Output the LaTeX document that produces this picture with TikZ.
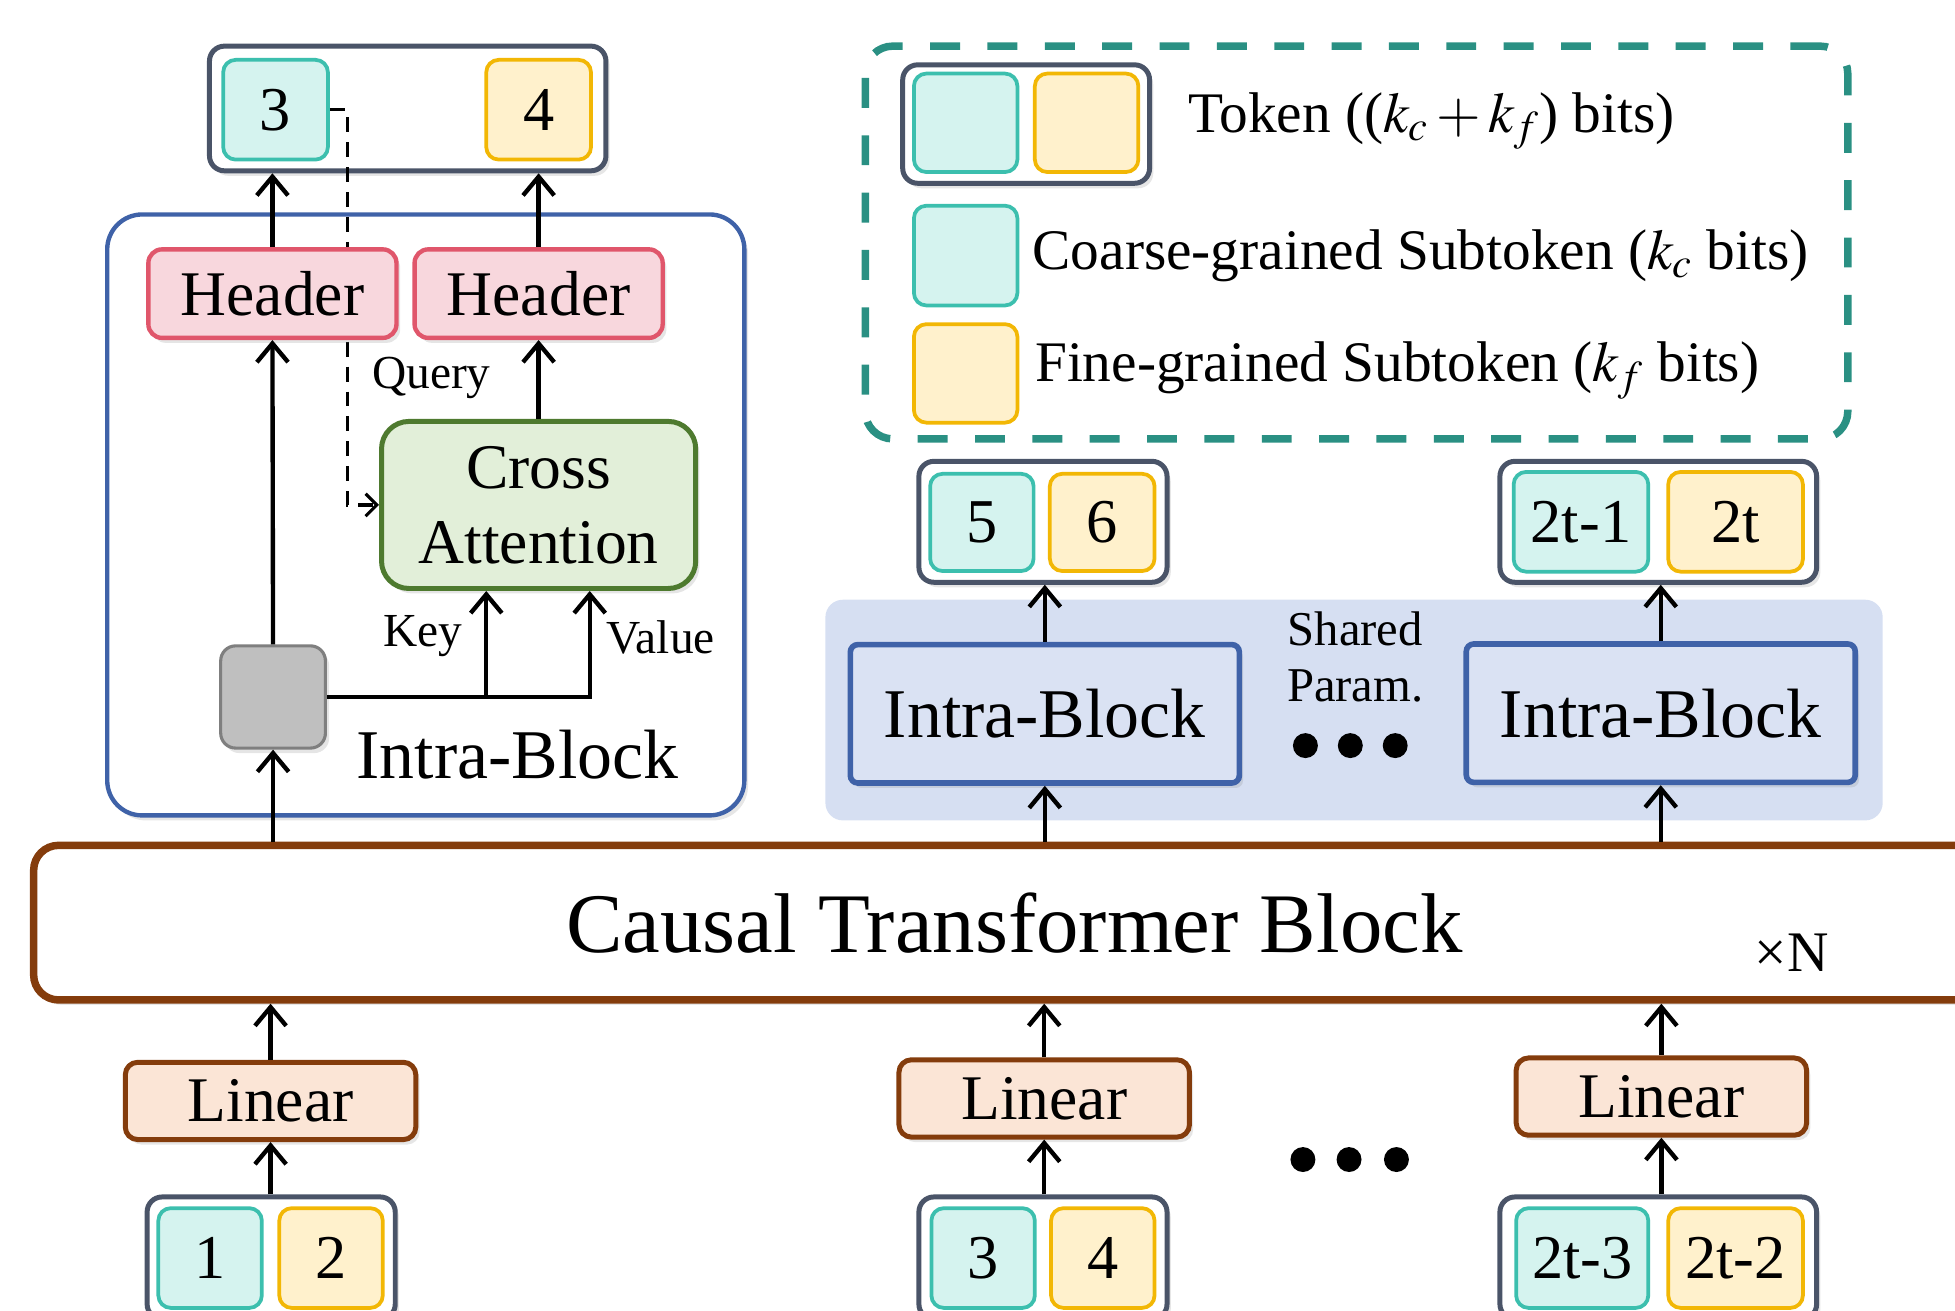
\documentclass[tikz,border=0pt]{standalone}
\usepackage{mathptmx}
\usepackage[no-math]{fontspec}
\setmainfont{Liberation Serif}
\usetikzlibrary{arrows.meta,shadows,calc}
\definecolor{slate}{HTML}{4A5468}
\definecolor{tealb}{HTML}{3CBFAE}
\definecolor{tealf}{HTML}{D5F3EF}
\definecolor{yelb}{HTML}{F2B705}
\definecolor{yelf}{HTML}{FFF1CC}
\definecolor{blueb}{HTML}{3F62A8}
\definecolor{hdrf}{HTML}{F8D7DD}
\definecolor{hdrb}{HTML}{E0566B}
\definecolor{caf}{HTML}{E2EFD9}
\definecolor{cab}{HTML}{4E7A2F}
\definecolor{grayf}{HTML}{BFBFBF}
\definecolor{grayb}{HTML}{7F7F7F}
\definecolor{legb}{HTML}{2A9083}
\definecolor{sharedf}{HTML}{D6DFF2}
\definecolor{ibf}{HTML}{DAE2F3}
\definecolor{brownb}{HTML}{843C0C}
\definecolor{linf}{HTML}{FBE5D6}
\tikzset{
  shd/.style={drop shadow={shadow xshift=3pt,shadow yshift=-4pt,opacity=0.2}},
  tokout/.style={draw=slate, line width=4pt, rounded corners=12pt, fill=white, inner sep=0pt, shd},
  sub/.style={line width=3pt, rounded corners=10pt, inner sep=0pt, minimum height=80pt, font=\fontsize{50}{60}\selectfont},
  cy/.style={sub, draw=tealb, fill=tealf},
  ye/.style={sub, draw=yelb, fill=yelf},
  arr/.style={line width=3.5pt, -{Straight Barb[length=15pt,width=25pt]}},
  darr/.style={line width=2.5pt, dash pattern=on 12pt off 8pt, -{Straight Barb[length=9pt,width=18pt]}},
  hdr/.style={draw=hdrb, fill=hdrf, line width=3.5pt, rounded corners=11pt, minimum width=199pt, minimum height=71pt, inner sep=0pt, font=\fontsize{51}{60}\selectfont, shd},
  ib/.style={draw=blueb, fill=ibf, line width=4.5pt, rounded corners=6pt, minimum width=312pt, minimum height=111pt, inner sep=0pt, font=\fontsize{56}{60}\selectfont, shd},
  lin/.style={draw=brownb, fill=linf, line width=4pt, rounded corners=10pt, minimum width=233pt, minimum height=62pt, inner sep=0pt, font=\fontsize{51}{60}\selectfont, shd},
  lab/.style={inner sep=0pt, font=\fontsize{38}{44}\selectfont},
  legtxt/.style={anchor=west, inner sep=0pt, font=\fontsize{46}{52}\selectfont},
}
\begin{document}
\begin{tikzpicture}[x=1pt,y=-1pt]
\useasboundingbox (0,0) rectangle (1568,1051);

% ---------- left: Intra-Block detail ----------
\node[draw=blueb, line width=3.5pt, rounded corners=28pt, fill=white, minimum width=511pt, minimum height=482pt, inner sep=0pt, shd] (ctr) at (341.5,413) {};
\node[tokout, minimum width=318pt, minimum height=100pt] (o34) at (327,87) {};
\node[cy, minimum width=84pt] (o3) at (221,88) {3};
\node[ye, minimum width=84pt] (o4) at (432,88) {4};

\node[draw=cab, fill=caf, line width=4pt, rounded corners=22pt, minimum width=252pt, minimum height=134pt, inner sep=0pt, align=center, font=\fontsize{51}{60}\selectfont, shd] (ca) at (432,405) {Cross\\Attention};
\draw[darr] (o3.east) -- ++(14,0) |- (ca.west);

\node[hdr] (h1) at (218.5,235.5) {Header};
\node[hdr] (h2) at (432,235.5) {Header};
\node[draw=grayb, fill=grayf, line width=2.5pt, rounded corners=12pt, minimum width=84pt, minimum height=82pt, inner sep=0pt, shd] (g) at (219,559) {};

\coordinate (kx) at (390,0);
\coordinate (vx) at (473,0);

\node[lab] (q) at (346,303) {Query};
\node[lab] (k) at (339,510) {Key};
\node[lab] (v) at (530,511) {Value};
\node[inner sep=0pt, font=\fontsize{56}{60}\selectfont] (ibl) at (415,605) {Intra-Block};

% ---------- legend ----------
\node[draw=legb, line width=6pt, dash pattern=on 24pt off 22pt, rounded corners=22pt, minimum width=788pt, minimum height=315pt, inner sep=0pt] (leg) at (1088,194.5) {};
\node[tokout, minimum width=198pt, minimum height=95pt] (lt) at (823,99.5) {};
\node[cy, minimum width=83pt, minimum height=79pt] (ltc) at (774.5,98.5) {};
\node[ye, minimum width=83pt, minimum height=79pt] (lty) at (871.5,98.5) {};
\node[cy, minimum width=83pt] (lc) at (774.5,205) {};
\node[ye, minimum width=83pt, minimum height=79pt] (lf) at (774.5,299.5) {};
\node[legtxt] (t1) at (953,97) {Token (($k_c+k_f$) bits)};
\node[legtxt] (t2) at (828,205) {Coarse-grained Subtoken ($k_c$ bits)};
\node[legtxt] (t3) at (830,297) {Fine-grained Subtoken ($k_f$ bits)};

% ---------- shared intra-blocks ----------
\node[fill=sharedf, rounded corners=14pt, minimum width=848pt, minimum height=177pt, inner sep=0pt] (sh) at (1086,569.5) {};
\node[ib] (ib1) at (838,572.5) {Intra-Block};
\node[ib] (ib2) at (1332,572) {Intra-Block};
\node[align=center, inner sep=0pt, font=\fontsize{39}{45}\selectfont] (sp) at (1087,527) {Shared\\Param.};
\fill (1047,598) circle (10pt) (1083,598) circle (10pt) (1119,598) circle (10pt);

\node[tokout, minimum width=199pt, minimum height=97pt] (o56) at (836.5,418.5) {};
\node[cy, minimum width=83pt, minimum height=78pt] (o5) at (787.5,419) {5};
\node[ye, minimum width=84pt, minimum height=78pt] (o6) at (884,419) {6};
\node[tokout, minimum width=254pt, minimum height=97pt] (o2t) at (1330,418.5) {};
\node[cy, minimum width=108pt, minimum height=80pt] (o2a) at (1268,418.5) {2t-1};
\node[ye, minimum width=108pt, minimum height=80pt] (o2b) at (1392,418.5) {2t};

% ---------- causal transformer ----------
\node[draw=brownb, fill=white, line width=6pt, rounded corners=20pt, minimum width=1573pt, minimum height=124pt, inner sep=0pt, font=\fontsize{68}{70}\selectfont, shd] (ctb) at (813.5,740) {Causal Transformer Block};
\node[inner sep=0pt, font=\fontsize{46}{50}\selectfont] (xn) at (1437,764) {×N};

% ---------- linear + inputs ----------
\node[lin] (l1) at (217,883) {Linear};
\node[lin] (l2) at (837.5,881) {Linear};
\node[lin] (l3) at (1332.5,879.5) {Linear};
\fill (1045,930) circle (10pt) (1082,930) circle (10pt) (1120,930) circle (10pt);

\node[tokout, minimum width=199pt, minimum height=98pt] (i12) at (217.5,1009) {};
\node[cy, minimum width=83pt] (i1) at (168.5,1009) {1};
\node[ye, minimum width=83pt] (i2) at (265.5,1009) {2};
\node[tokout, minimum width=199pt, minimum height=98pt] (i34) at (836.5,1009) {};
\node[cy, minimum width=83pt] (i3) at (788.5,1009) {3};
\node[ye, minimum width=83pt] (i4) at (884.5,1009) {4};
\node[tokout, minimum width=254pt, minimum height=98pt] (i2t) at (1330,1009) {};
\node[cy, minimum width=106pt] (i2a) at (1269,1009) {2t-3};
\node[ye, minimum width=108pt] (i2b) at (1392,1009) {2t-2};

% ---------- connectors ----------
\draw[arr] (h1.north) -- (h1.north |- o34.south);
\draw[arr] (h2.north) -- (h2.north |- o34.south);
\draw[arr] (ca.north) -- (h2.south);
\draw[arr] (g.north) -- (h1.south);
\draw[arr] (g.east) -| (vx |- ca.south);
\draw[arr] (kx |- g.east) -- (kx |- ca.south);
\draw[arr] (g.south |- ctb.north) -- (g.south);

\draw[arr] (ib1.north) -- (ib1.north |- o56.south);
\draw[arr] (ib2.north) -- (ib2.north |- o2t.south);
\draw[arr] (ib1.south |- ctb.north) -- (ib1.south);
\draw[arr] (ib2.south |- ctb.north) -- (ib2.south);

\draw[arr] (l1.north) -- (l1.north |- ctb.south);
\draw[arr] (l2.north) -- (l2.north |- ctb.south);
\draw[arr] (l3.north) -- (l3.north |- ctb.south);
\draw[arr] (l1.south |- i12.north) -- (l1.south);
\draw[arr] (l2.south |- i34.north) -- (l2.south);
\draw[arr] (l3.south |- i2t.north) -- (l3.south);
\end{tikzpicture}
\end{document}
